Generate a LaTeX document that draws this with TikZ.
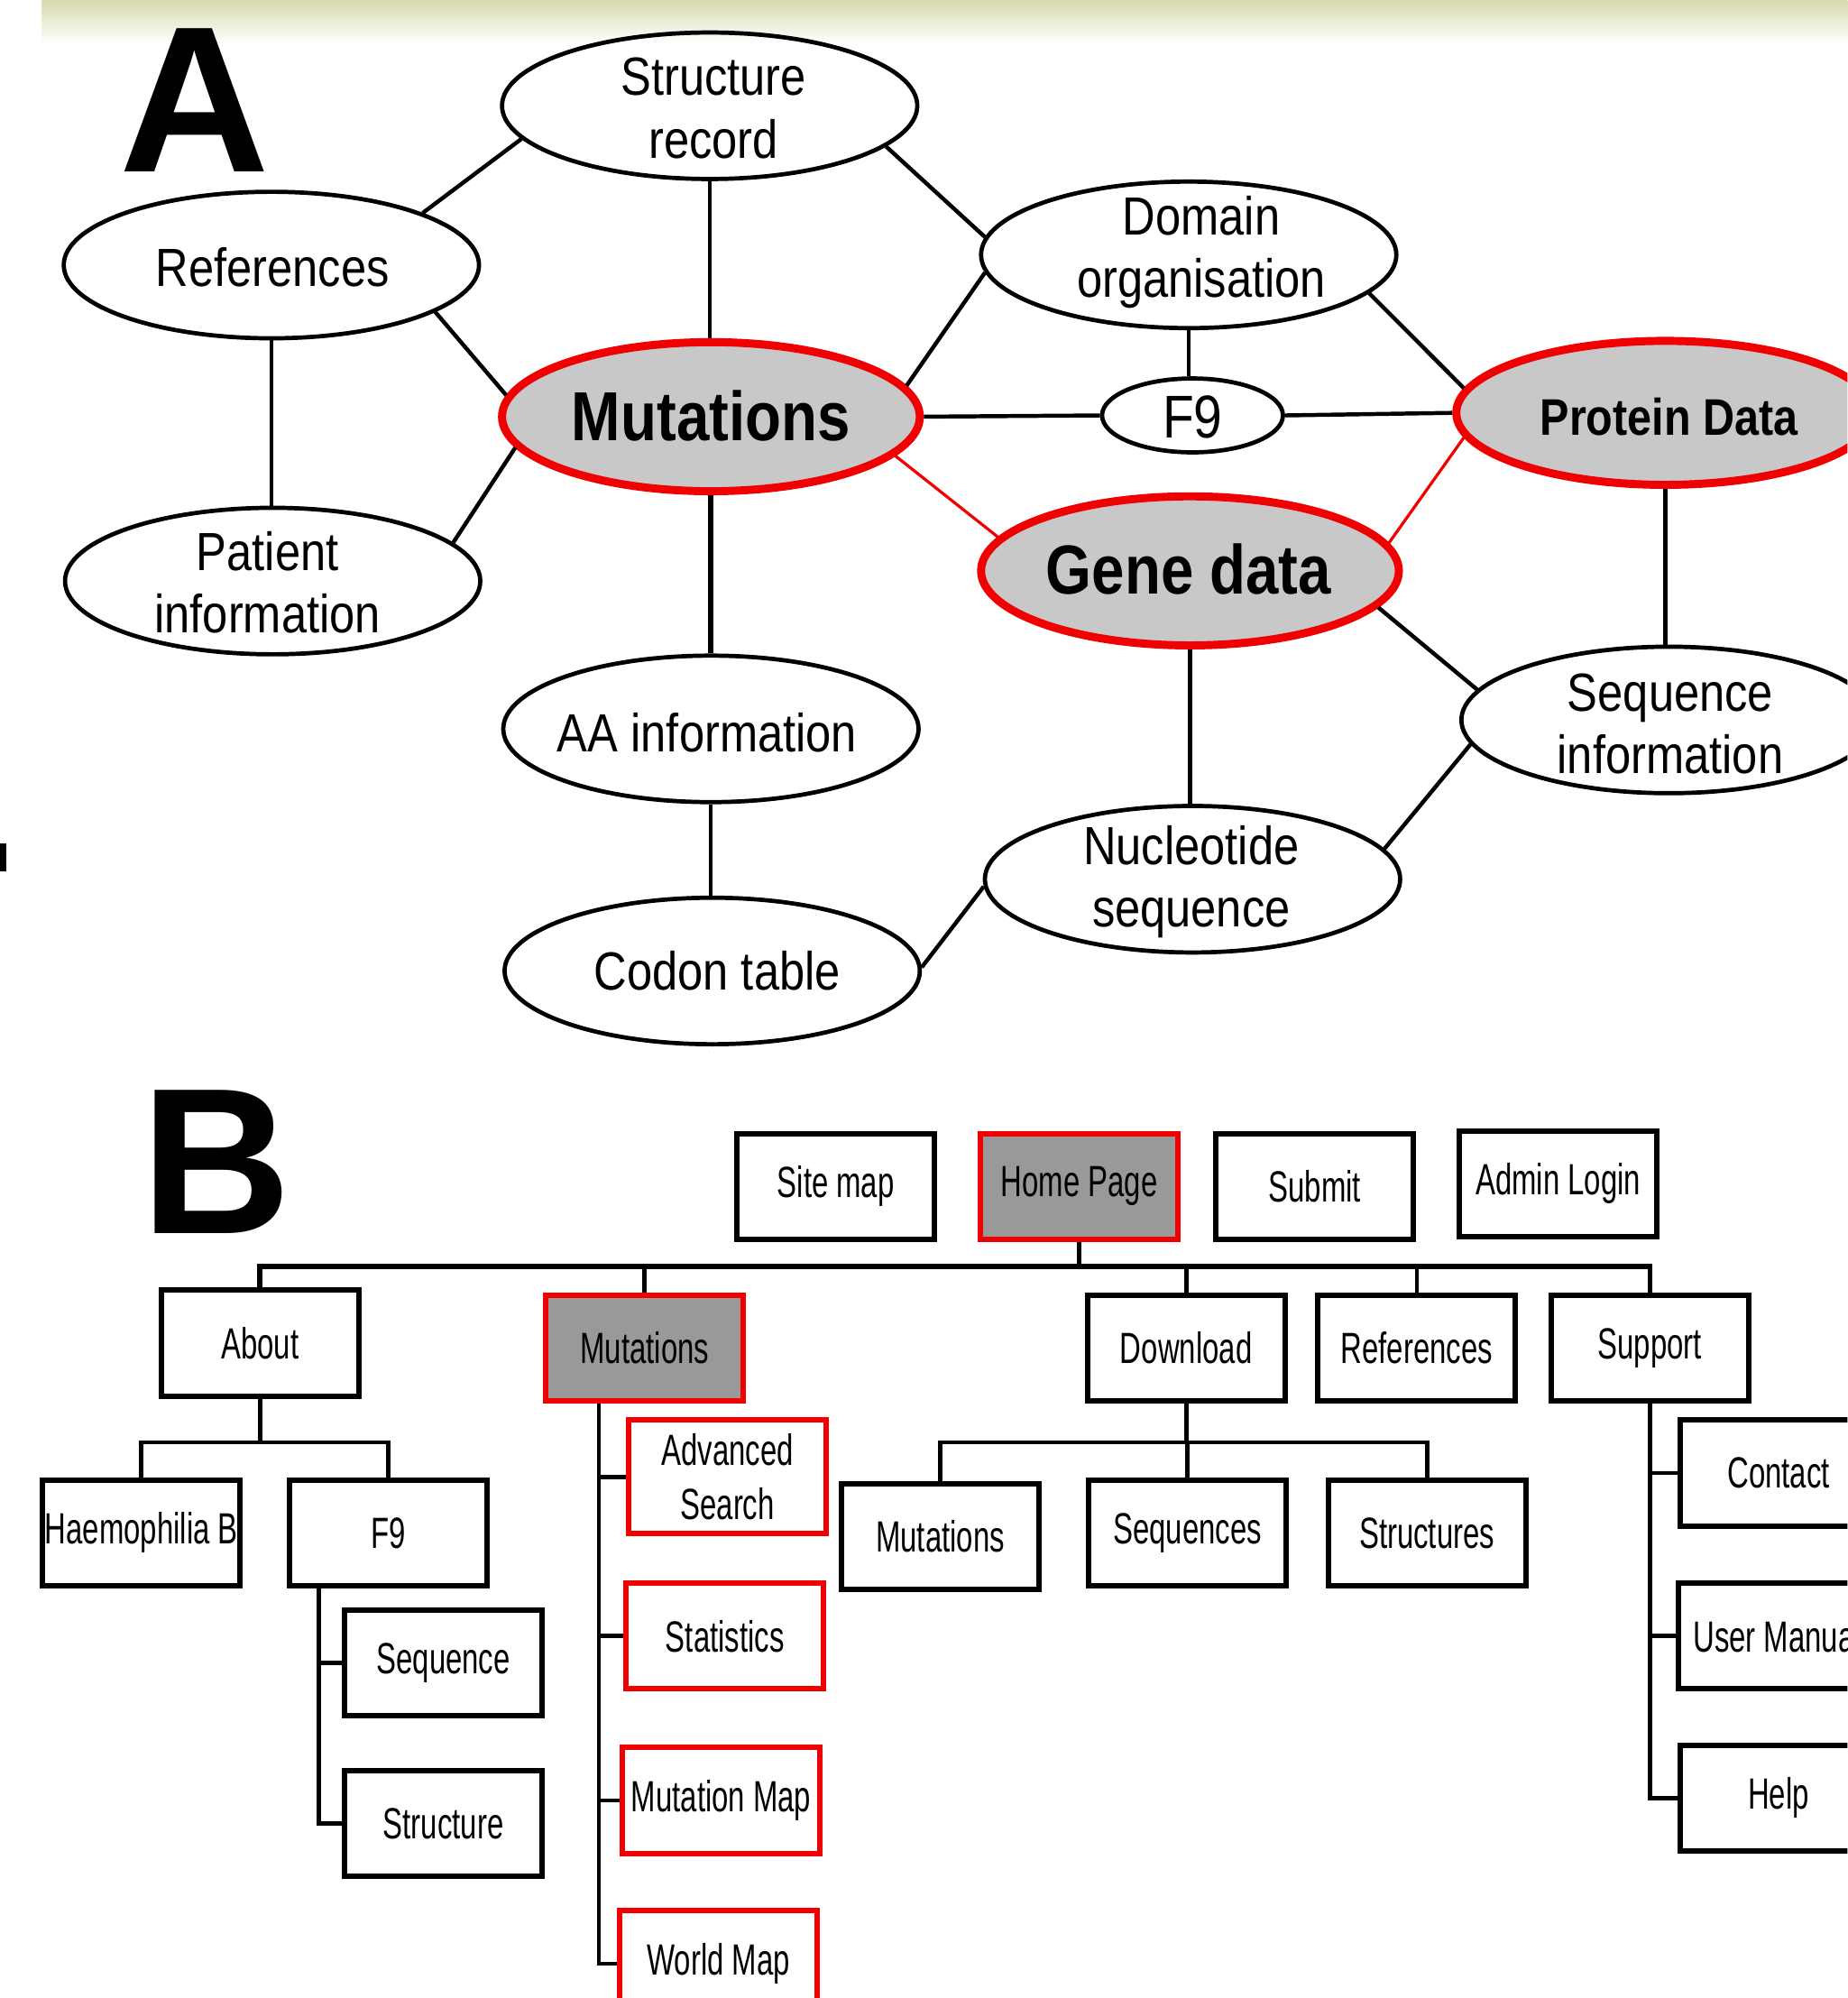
\documentclass[tikz,border=0pt]{standalone}
\usepackage{fontspec}
\setmainfont{Liberation Sans}
\newfontfamily\fA[FakeStretch=0.85]{Liberation Sans}
\newfontfamily\fB[FakeStretch=0.68]{Liberation Sans}
\usetikzlibrary{shapes.geometric}
\definecolor{barc}{RGB}{213,217,170}
\definecolor{agray}{RGB}{200,200,200}
\definecolor{bgray}{RGB}{153,153,153}
\definecolor{bred}{RGB}{240,0,0}
\begin{document}
\begin{tikzpicture}[x=0.02cm,y=-0.02cm,
 ell/.style={ellipse, draw=black, line width=1.9pt, inner sep=0pt, minimum width=6.52cm, minimum height=2.3cm},
 hot/.style={ellipse, draw=bred, line width=3.6pt, fill=agray, inner sep=0pt, minimum width=6.56cm, minimum height=2.34cm},
 lbl/.style={font=\fA\fontsize{24}{28}\selectfont, align=center, inner sep=0pt},
 hotlbl/.style={font=\fA\bfseries\fontsize{31}{36}\selectfont, inner sep=0pt},
 conn/.style={line width=1.8pt},
 hconn/.style={draw=bred, line width=1.3pt},
 box/.style={rectangle, draw=black, line width=2.4pt, fill=white, minimum width=3.1cm, minimum height=1.66cm, inner sep=0pt, font=\fB\fontsize{19.5}{24}\selectfont, align=center},
 rbox/.style={box, draw=bred},
 gbox/.style={rbox, fill=bgray},
 tconn/.style={line width=1.9pt},
 title/.style={font=\bfseries\fontsize{93}{93}\selectfont, inner sep=0pt, anchor=base},
]
\useasboundingbox (0,0) rectangle (1450,1568);
\clip (0,0) rectangle (1450,1568);

% top bar and side mark
\shade[top color=barc, bottom color=white] (33,-1) rectangle (1450,34);
\fill[black] (0,662) rectangle (5,684);

% ---------------- Part A ----------------
\node[title] (letA) at (153,135) {A};

\node[ell] (str) at (557,83) {};
\node[ell] (ref) at (213,208) {};
\node[ell] (dom) at (933,200) {};
\node[hot] (mut) at (558,327) {};
\node[ell, minimum width=2.84cm, minimum height=1.16cm] (f9) at (936,326) {};
\node[hot, minimum width=6.56cm, minimum height=2.26cm] (prot) at (1307,324) {};
\node[ell] (pat) at (214,456) {};
\node[hot] (gene) at (934,448) {};
\node[ell] (aa) at (558,572) {};
\node[ell] (seq) at (1310,565) {};
\node[ell] (nuc) at (936,690) {};
\node[ell] (codon) at (559,762) {};

\node[lbl] (strT) at (560,85) {Structure\\record};
\node[lbl] (refT) at (214,210) {References};
\node[lbl] (domT) at (943,198) {Domain\\organisation};
\node[hotlbl] (mutT) at (558,326) {Mutations};
\node[lbl, font=\fA\fontsize{27}{30}\selectfont] (f9T) at (936,327) {F9};
\node[hotlbl, font=\fA\bfseries\fontsize{23}{26}\selectfont] (protT) at (1310,327) {Protein Data};
\node[lbl] (patT) at (210,457) {Patient\\information};
\node[hotlbl] (geneT) at (933,447) {Gene data};
\node[lbl] (aaT) at (555,575) {AA information};
\node[lbl] (seqT) at (1311,568) {Sequence\\information};
\node[lbl] (nucT) at (935,692) {Nucleotide\\sequence};
\node[lbl] (codonT) at (563,762) {Codon table};

\draw[conn] (ref.19) -- (str.190);
\draw[conn] (str.south) -- (str.south |- mut.north);
\draw[conn] (str.347) -- (dom.175);
\draw[conn] (ref.344) -- (mut.174);
\draw[conn] (ref.south) -- (ref.south |- pat.north);
\draw[conn] (pat.12) -- (mut.189);
\draw[conn] (mut.9) -- (dom.185);
\draw[conn] (mut.east) -- (f9.west);
\draw[conn] (f9.east) -- (prot.west);
\draw[conn] (dom.south) -- (dom.south |- f9.north);
\draw[conn] (dom.348) -- (prot.173);
\draw[hconn] (mut.348) -- (gene.170);
\draw[hconn] (gene.8) -- (prot.187);
\draw[conn, line width=2.3pt] (mut.south) -- (mut.south |- aa.north);
\draw[conn] (prot.south) -- (prot.south |- seq.north);
\draw[conn] (gene.349) -- (seq.171);
\draw[conn] (gene.south) -- (gene.south |- nuc.north);
\draw[conn] (aa.south) -- (aa.south |- codon.north);
\draw[conn] (codon.1) -- (nuc.182);
\draw[conn] (nuc.9) -- (seq.187);

% ---------------- Part B ----------------
\node[title] (letB) at (170,968) {B};

\node[box] (sitemap) at (656,931) {Site map};
\node[gbox] (home) at (847,931) {Home Page};
\node[box] (submit) at (1032,931) {Submit};
\node[box] (admin) at (1223,929) {Admin Login};

\node[box] (about) at (204,1054) {About};
\node[gbox] (bmut) at (506,1058) {Mutations};
\node[box] (download) at (931,1058) {Download};
\node[box] (bref) at (1112,1058) {References};
\node[box] (support) at (1295,1058) {Support};

\node[box] (haem) at (111,1203) {Haemophilia B};
\node[box] (bf9) at (305,1203) {F9};
\node[box] (bseq) at (348,1305) {Sequence};
\node[box] (bstruct) at (348,1431) {Structure};

\node[rbox, minimum height=1.78cm] (adv) at (571,1159) {Advanced\\Search};
\node[rbox] (stat) at (569,1284) {Statistics};
\node[rbox] (mmap) at (566,1413) {Mutation Map};
\node[rbox] (wmap) at (564,1541) {World Map};

\node[box] (dmut) at (738,1206) {Mutations};
\node[box] (dseq) at (932,1203) {Sequences};
\node[box] (dstruct) at (1120,1203) {Structures};

\node[box] (contact) at (1396,1156) {Contact};
\node[box] (manual) at (1395,1284) {User Manual};
\node[box] (help) at (1396,1411) {Help};

\coordinate (bus) at (0,994);
\coordinate (abus) at (0,1132);
\coordinate (f9v) at (250,0);
\coordinate (mv) at (470,0);

\draw[tconn, line width=2.3pt] (about.north) -- (about.north |- bus) -| (support.north);
\draw[tconn] (home.south) -- (home.south |- bus);
\draw[tconn] (bmut.north) -- (bmut.north |- bus);
\draw[tconn] (download.north) -- (download.north |- bus);
\draw[tconn] (bref.north) -- (bref.north |- bus);

\draw[tconn] (about.south) -- (about.south |- abus);
\draw[tconn] (haem.north) |- (bf9.north |- abus) -- (bf9.north);

\draw[tconn] (bf9.south -| f9v) |- (bstruct.west);
\draw[tconn] (bseq.west) -- (bseq.west -| f9v);

\draw[tconn] (bmut.south -| mv) |- (wmap.west);
\draw[tconn] (adv.west) -- (adv.west -| mv);
\draw[tconn] (stat.west) -- (stat.west -| mv);
\draw[tconn] (mmap.west) -- (mmap.west -| mv);

\draw[tconn] (download.south) -- (download.south |- abus);
\draw[tconn] (dmut.north) |- (dstruct.north |- abus) -- (dstruct.north);
\draw[tconn] (dseq.north) -- (dseq.north |- abus);

\draw[tconn] (support.south) |- (help.west);
\draw[tconn] (contact.west) -- (contact.west -| support.south);
\draw[tconn] (manual.west) -- (manual.west -| support.south);
\end{tikzpicture}
\end{document}
